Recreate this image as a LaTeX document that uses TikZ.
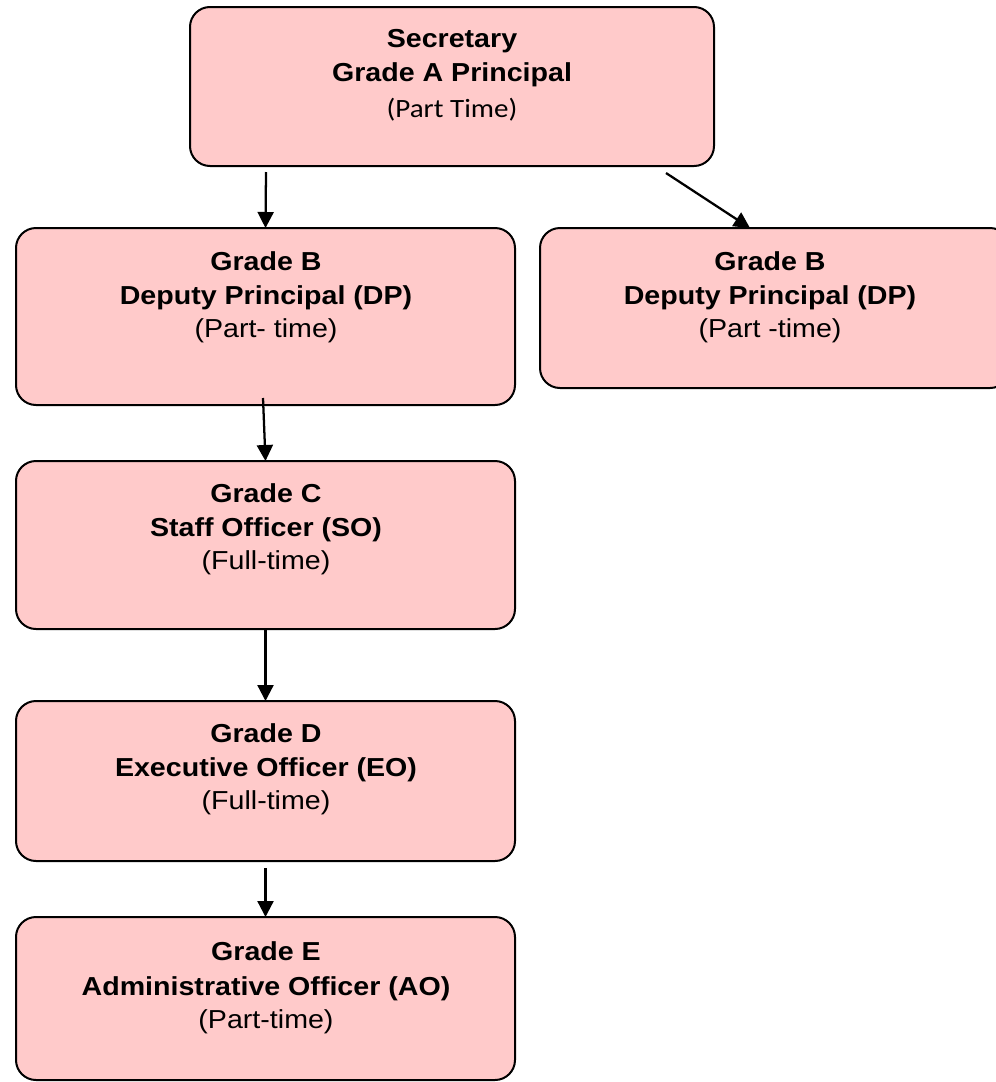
\documentclass[tikz,border=0pt]{standalone}
\usepackage{fontspec}
\usepackage{graphicx}
\setmainfont{Liberation Sans}
\newfontfamily\calfont{Carlito}
\usetikzlibrary{arrows.meta}
\definecolor{boxpink}{HTML}{FFCACA}
\newcommand\hstretch[1]{\scalebox{1.1}[1]{#1}}
\tikzset{
  gbox/.style={draw=black, line width=1.5pt, fill=boxpink, rounded corners=15pt},
  arr/.style={line width=1.7pt, -{Triangle[length=12pt,width=12pt]}},
  txt/.style={anchor=base, inner sep=0pt, font=\fontsize{19.5pt}{22pt}\selectfont},
  btxt/.style={txt, font=\fontsize{19.5pt}{22pt}\selectfont\bfseries},
  ctxt/.style={anchor=base, inner sep=0pt, font=\fontsize{19.8pt}{22pt}\calfont},
}
\begin{document}
\begin{tikzpicture}[x=0.75pt, y=-0.75pt]
\useasboundingbox (0,0) rectangle (996,1082);
\clip (0,0) rectangle (996,1082);
% boxes
\draw[gbox] (190,7) rectangle (714,166);
\draw[gbox] (16,228) rectangle (515,405);
\coordinate (Bl) at (265.5,228);
\draw[gbox] (540,228) rectangle (1010,388);
\coordinate (Br) at (750,228);
\draw[gbox] (16,461) rectangle (515,629);
\coordinate (C) at (265.5,461);
\draw[gbox] (16,701) rectangle (515,861);
\coordinate (D) at (265.5,701);
\draw[gbox] (16,917) rectangle (515,1080);
\coordinate (E) at (265.5,917);
% texts
\node[btxt] (a1) at (452,47) {\hstretch{Secretary}};
\node[btxt] (a2) at (452,81) {\hstretch{Grade A Principal}};
\node[ctxt] (a3) at (452,117) {\hstretch{(Part Time)}};
\node[btxt] (b1) at (266,270) {\hstretch{Grade B}};
\node[btxt] (b2) at (266,304) {\hstretch{Deputy Principal (DP)}};
\node[txt] (b3) at (266,337) {\hstretch{(Part- time)}};
\node[btxt] (r1) at (770,270) {\hstretch{Grade B}};
\node[btxt] (r2) at (770,304) {\hstretch{Deputy Principal (DP)}};
\node[txt] (r3) at (770,337) {\hstretch{(Part -time)}};
\node[btxt] (c1) at (266,502) {\hstretch{Grade C}};
\node[btxt] (c2) at (266,536) {\hstretch{Staff Officer (SO)}};
\node[txt] (c3) at (266,569) {\hstretch{(Full-time)}};
\node[btxt] (d1) at (266,742) {\hstretch{Grade D}};
\node[btxt] (d2) at (266,776) {\hstretch{Executive Officer (EO)}};
\node[txt] (d3) at (266,809) {\hstretch{(Full-time)}};
\node[btxt] (e1) at (266,960) {\hstretch{Grade E}};
\node[btxt] (e2) at (266,995) {\hstretch{Administrative Officer (AO)}};
\node[txt] (e3) at (266,1028) {\hstretch{(Part-time)}};
% arrow start points
\coordinate (s1) at (266,172);
\coordinate (s2) at (666,173);
\coordinate (s3) at (263,398);
\coordinate (s4) at (265.5,630);
\coordinate (s5) at (265.5,868);
% connectors
\draw[arr] (s1) -- (Bl);
\draw[arr] (s2) -- (Br);
\draw[arr] (s3) -- (C);
\draw[arr] (s4) -- (D);
\draw[arr] (s5) -- (E);
\end{tikzpicture}
\end{document}
